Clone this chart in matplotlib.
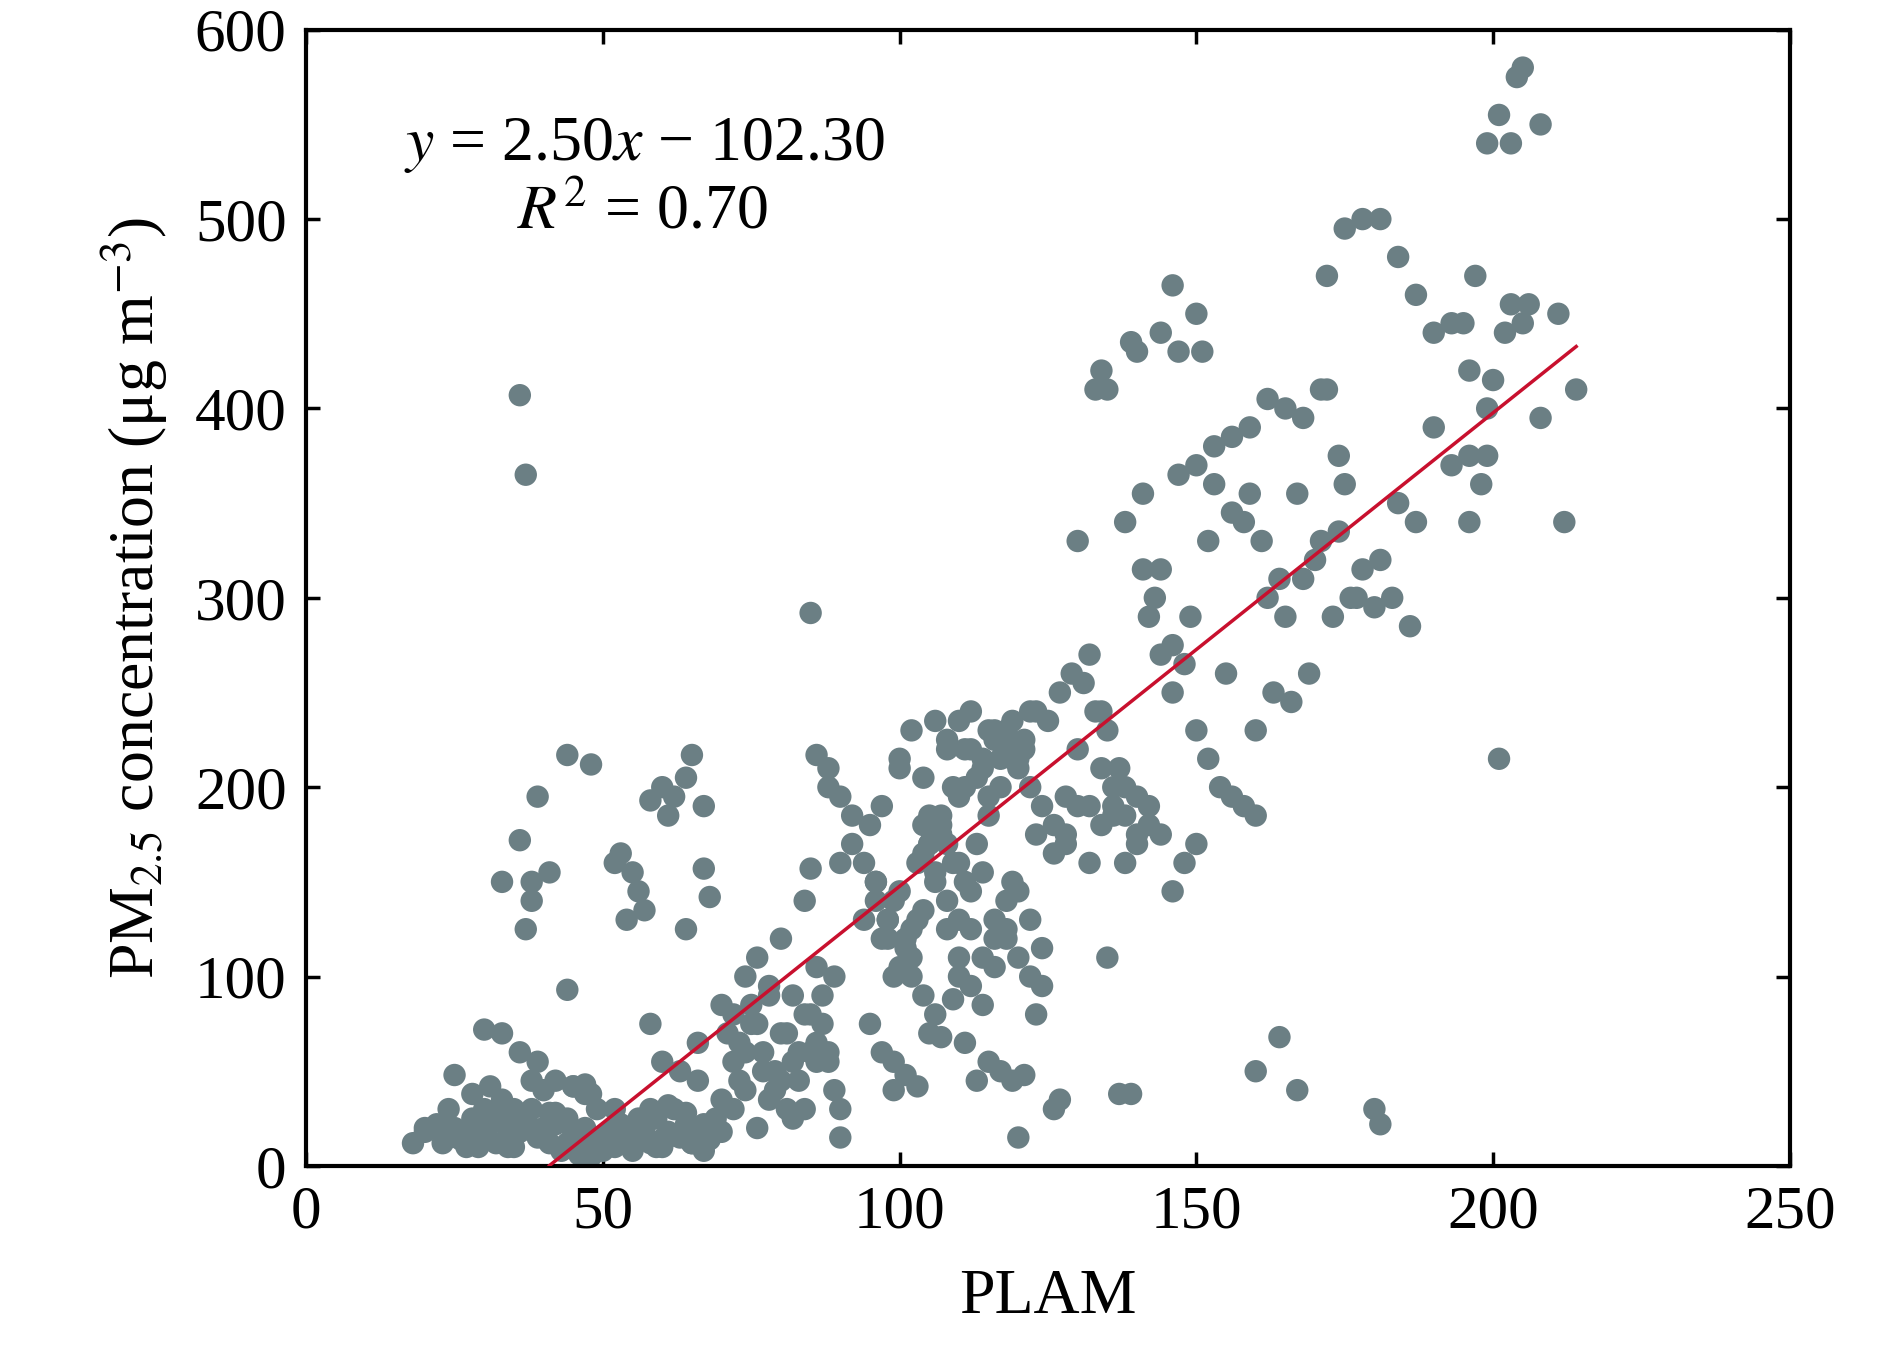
import matplotlib
matplotlib.use("Agg")
import matplotlib.pyplot as plt
import numpy as np

plam = [18,20,22,24,25,26,27,28,29,30,30,31,32,33,34,35,36,37,38,39,40,41,42,43,44,45,46,47,48,49,50,51,52,53,54,55,56,57,58,59,60,61,62,63,64,65,66,67,68,69,70,
        25,28,31,33,35,38,40,42,45,47,49,52,55,58,61,64,67,70,
        30,33,36,39,42,45,48,52,56,60,63,66,
        36,37,37,38,38,39,33,41,44,48,36,
        52,53,54,55,56,57,58,60,62,64,65,67,68,
        70,71,72,73,74,75,76,77,78,79,80,81,82,83,84,85,86,87,88,89,90,
        72,74,76,78,80,82,84,86,88,90,73,75,77,79,81,83,85,87,89,
        85,86,88,90,92,94,95,96,97,98,99,100,101,102,103,104,105,
        90,92,94,96,98,100,102,104,106,108,110,112,114,116,118,120,122,124,
        100,102,104,106,108,110,112,114,116,118,120,122,124,126,128,
        105,107,109,111,113,115,117,119,121,123,125,127,129,131,133,135,137,
        110,112,114,116,118,120,122,124,126,128,130,132,134,136,138,140,142,144,146,148,150,
        95,97,99,101,103,105,107,109,111,113,115,117,119,121,
        130,132,134,136,138,140,142,144,146,148,150,152,154,156,158,160,
        135,138,141,144,147,150,153,156,159,162,165,168,171,174,
        140,143,146,149,152,155,158,161,164,167,170,173,176,
        150,153,156,159,162,165,168,171,174,177,180,183,186,
        160,163,166,169,172,175,178,181,184,187,190,193,196,199,
        172,175,178,181,184,187,190,193,196,199,202,205,208,211,
        195,197,199,201,203,204,205,200,198,196,
        133,134,139,144,147,151,146,135,126,127,123,
        160,164,167,180,181,137,139,141,85,99,47,44,64,58,61,67,
        214,212,208,206,203,201,
        108,110,112,114,116,118,120,122,109,111,113,115,117,119,121,123,107,111,115,119,
        96,98,100,102,104,106,108,110,97,99,101,103,105,107,
        104,106,108,110,112,114,116,118,120,
        20,23,26,29,32,35,38,41,44,47,50,53,56,59,62,65,68,24,34,46,54,60,66,
        72,74,76,78,80,82,84,86,88,
        128,130,132,134,136,138,140,142,144,
        ]
pm = [12,18,22,15,20,14,10,25,18,30,15,22,12,28,20,10,18,25,30,15,20,12,22,8,25,18,10,20,5,15,12,18,10,22,14,8,16,20,12,25,10,18,30,15,22,12,20,8,14,25,18,
      48,38,42,35,30,45,40,28,42,38,30,20,18,30,32,28,22,35,
      72,70,60,55,45,42,38,30,25,55,50,45,
      407,365,125,150,140,195,150,155,93,212,172,
      160,165,130,155,145,135,75,200,195,125,217,190,142,
      85,70,55,45,100,85,110,60,95,50,120,70,90,60,140,80,105,75,55,40,30,
      30,40,20,35,45,25,30,55,60,15,65,75,50,40,30,45,60,90,100,
      157,217,200,195,170,160,180,150,190,130,140,215,120,100,160,180,170,
      160,185,130,150,120,105,110,90,80,125,100,95,85,105,120,110,100,95,
      210,230,205,235,220,195,240,215,225,230,210,200,190,180,170,
      185,175,160,150,170,185,200,215,220,240,235,250,260,255,240,230,210,
      130,125,110,120,140,145,130,115,165,175,190,160,180,190,200,195,180,175,145,160,170,
      75,60,55,48,42,70,68,88,65,45,55,50,45,48,
      330,270,210,185,160,175,290,270,250,265,230,215,200,195,190,185,
      410,340,355,315,365,370,380,345,355,300,290,310,330,335,
      430,300,275,290,330,260,340,330,310,355,320,290,300,
      450,360,385,390,405,400,395,410,375,300,295,300,285,
      230,250,245,260,410,360,315,320,350,340,390,370,375,375,
      470,495,500,500,480,460,440,445,420,400,440,445,395,450,
      445,470,540,555,540,575,580,415,360,340,
      410,420,435,440,430,430,465,110,30,35,
      80,50,68,40,30,22,38,38,315,292,40,43,217,205,193,185,
      157,410,340,550,455,455,
      215,225,235,220,210,230,225,215,240,200,220,205,230,215,235,225,175,185,200,195,
      150,140,130,145,125,135,155,140,110,120,100,115,130,170,
      180,165,150,170,160,145,155,130,125,
      15,20,12,18,10,25,15,20,28,12,18,8,14,22,10,16,12,22,30,10,6,20,14,
      65,80,60,75,90,70,55,80,65,
      210,195,220,190,240,200,185,170,190,
      ]
n = min(len(plam), len(pm))
plam, pm = plam[:n], pm[:n]
slope, intercept = 2.50, -102.30
fit_x = [41, 214]

plt.rcParams['font.family'] = ['Liberation Serif', 'DejaVu Serif']
plt.rcParams['mathtext.fontset'] = 'stix'
fig = plt.figure(figsize=(18.9, 13.51), dpi=100)
ax = fig.add_axes([0.162, 0.137, 0.785, 0.841])
ax.scatter(plam, pm, s=260, color='#6b7f84', edgecolors='none', zorder=2)
fx = np.array(fit_x)
ax.plot(fx, slope*fx+intercept, color='#c8102e', lw=2.5, zorder=3)
ax.set_xlim(0, 250); ax.set_ylim(0, 600)
ax.set_xticks(range(0, 251, 50)); ax.set_yticks(range(0, 601, 100))
ax.tick_params(direction='in', top=True, right=True, length=10, width=2.5, labelsize=44, pad=14)
for s in ax.spines.values(): s.set_linewidth(3)
ax.set_xlabel('PLAM', fontsize=46, labelpad=20)
ax.set_ylabel(r'PM$_{2.5}$ concentration (μg m$^{-3}$)', fontsize=46, labelpad=18)
ax.text(0.066, 0.885, r'$y$ = 2.50$x$ − 102.30', transform=ax.transAxes, fontsize=46)
ax.text(0.142, 0.825, r'$R^2$ = 0.70', transform=ax.transAxes, fontsize=46)
fig.savefig('out.png', dpi=100)
